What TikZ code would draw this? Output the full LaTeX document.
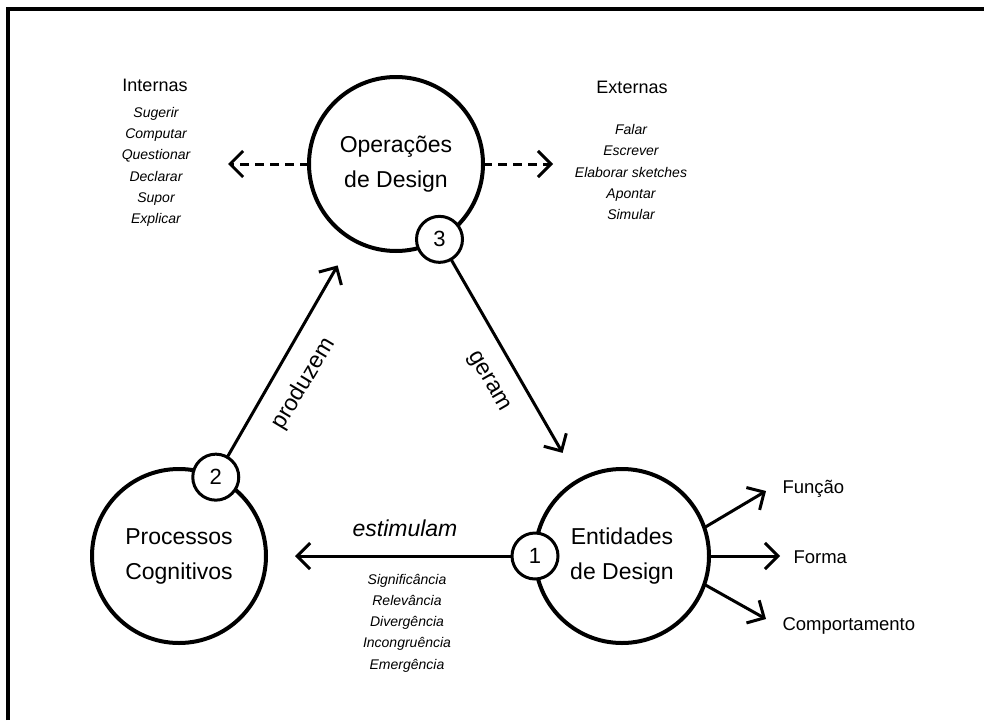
\documentclass[tikz,border=0pt]{standalone}
\usepackage{fontspec}
\setmainfont{Liberation Sans}
\usetikzlibrary{arrows.meta}
\begin{document}
\begin{tikzpicture}[x=1pt,y=-1pt,
  bigcirc/.style={circle, draw, line width=4pt, minimum size=174pt, inner sep=0pt,
    outer sep=0pt, align=center, font=\fontsize{23}{35}\selectfont},
  numcirc/.style={circle, draw, fill=white, line width=3pt, minimum size=46pt,
    inner sep=0pt, outer sep=0pt, font=\fontsize{22}{25}\selectfont},
  arr/.style={line width=3pt, -{Straight Barb[length=13pt,width=26pt]}},
  dasharr/.style={arr, dash pattern=on 9pt off 6pt},
  head/.style={font=\fontsize{18}{22}\selectfont},
  itemlist/.style={align=center, font=\fontsize{14}{21.3}\selectfont\itshape},
  verb/.style={font=\fontsize{23}{28}\selectfont},
  outlbl/.style={anchor=base west, font=\fontsize{18.5}{22}\selectfont}]

% white page
\fill[white] (0,0) rectangle (984,720);
\useasboundingbox (0,0) rectangle (984,720);

% frame (top and left edges only)
\draw[line width=3.5pt, line join=miter] (8,720) -- (8,9) -- (984,9);

% main circles
\node[bigcirc] (ops)  at (396,164) {Operações\\de Design};
\node[bigcirc] (proc) at (179,556) {Processos\\Cognitivos};
\node[bigcirc] (ent)  at (622,556) {Entidades\\de Design};

% numbered markers
\node[numcirc] (n1) at (ent.west) {1};
\node[numcirc] (n2) at (proc.65) {2};
\node[numcirc] (n3) at (ops.-60) {3};

% cycle arrows
\draw[arr, shorten >=30pt] (n2) -- (ops);
\draw[arr, shorten >=32pt] (n3) -- (ent);
\draw[arr, shorten >=29pt] (n1) -- (proc);

\node[verb, rotate=59]  (lprod) at (304,384) {produzem};
\node[verb, rotate=-60] (lger)  at (488,382) {geram};
\node[verb, font=\fontsize{23}{28}\selectfont\itshape] (lest) at (405,528) {estimulam};

% internal / external operations
\coordinate (intip) at (228,164);
\coordinate (extip) at (553,164);
\draw[dasharr] (ops.west) -- (intip);
\draw[dasharr] (ops.east) -- (extip);

\node[head] (hint) at (155,85) {Internas};
\node[itemlist] (lint) at (156,167) {Sugerir\\Computar\\Questionar\\Declarar\\Supor\\Explicar};
\node[head] (hext) at (632,87) {Externas};
\node[itemlist] (lext) at (631,172) {Falar\\Escrever\\Elaborar sketches\\Apontar\\Simular};

% stimulus qualities
\node[itemlist] (lstim) at (407,623) {Significância\\Relevância\\Divergência\\Incongruência\\Emergência};

% aspects of design entities
\coordinate (fntip) at (766,491);
\coordinate (fmtip) at (780,556);
\coordinate (cptip) at (766,619);
\draw[arr] (ent.19) -- (fntip);
\draw[arr] (ent.east) -- (fmtip);
\draw[arr] (ent.-19) -- (cptip);

\node[outlbl] (lfn) at (779,493) {Função};
\node[outlbl] (lfm) at (790,563) {Forma};
\node[outlbl] (lcp) at (779,630) {Comportamento};

\end{tikzpicture}
\end{document}
